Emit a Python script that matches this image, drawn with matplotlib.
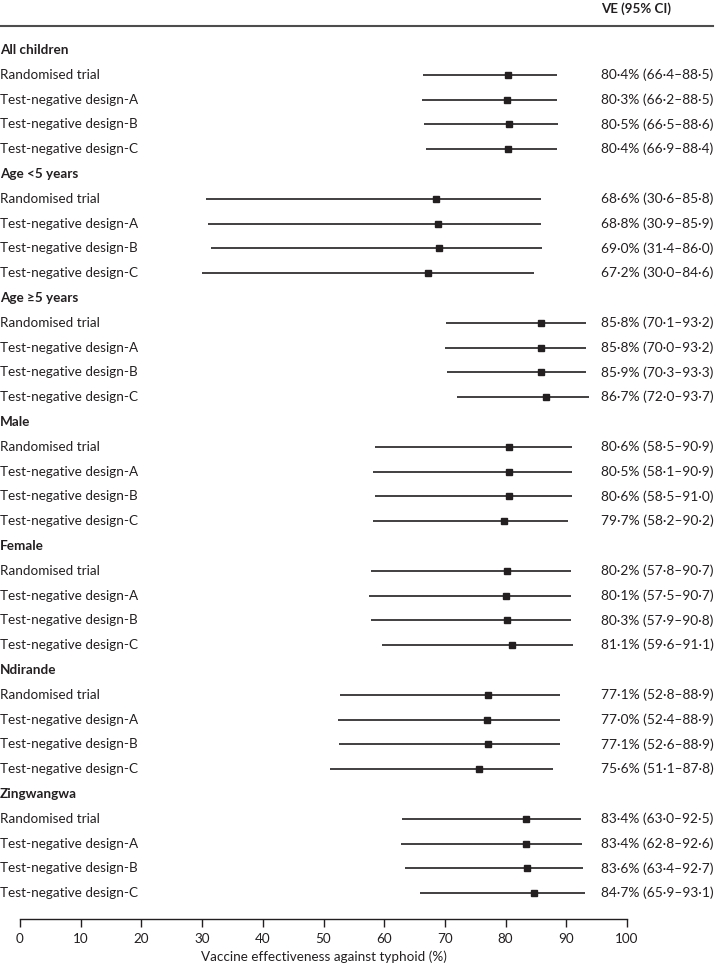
import matplotlib.pyplot as plt
import matplotlib.transforms as mtransforms
from matplotlib.lines import Line2D

plt.rcParams['font.family'] = ['Lato', 'DejaVu Sans']

groups = ["All children", "Age <5 years", "Age \u22655 years", "Male", "Female", "Ndirande", "Zingwangwa"]
methods = ["Randomised trial", "Test-negative design-A", "Test-negative design-B", "Test-negative design-C"]

ve = [
    [80.4, 80.3, 80.5, 80.4],
    [68.6, 68.8, 69.0, 67.2],
    [85.8, 85.8, 85.9, 86.7],
    [80.6, 80.5, 80.6, 79.7],
    [80.2, 80.1, 80.3, 81.1],
    [77.1, 77.0, 77.1, 75.6],
    [83.4, 83.4, 83.6, 84.7],
]
ci_low = [
    [66.4, 66.2, 66.5, 66.9],
    [30.6, 30.9, 31.4, 30.0],
    [70.1, 70.0, 70.3, 72.0],
    [58.5, 58.1, 58.5, 58.2],
    [57.8, 57.5, 57.9, 59.6],
    [52.8, 52.4, 52.6, 51.1],
    [63.0, 62.8, 63.4, 65.9],
]
ci_high = [
    [88.5, 88.5, 88.6, 88.4],
    [85.8, 85.9, 86.0, 84.6],
    [93.2, 93.2, 93.3, 93.7],
    [90.9, 90.9, 91.0, 90.2],
    [90.7, 90.7, 90.8, 91.1],
    [88.9, 88.9, 88.9, 87.8],
    [92.5, 92.6, 92.7, 93.1],
]


def fmt(v):
    return f"{v:.1f}".replace(".", "\u00b7")


W, H = 716, 967
fig = plt.figure(figsize=(W / 100, H / 100), dpi=100)
renderer = fig.canvas.get_renderer()


def fit_size(s, target_px, weight='normal'):
    # font size giving the text the width it has in the reference
    t = fig.text(0, 0, s, fontsize=10, fontweight=weight)
    w = t.get_window_extent(renderer).width
    t.remove()
    return 10 * target_px / w


fs = fit_size("Test-negative design-C", 137)
fs_val = fit_size("84\u00b77% (65\u00b79\u201393\u00b71)", 112)
fs_head = fit_size("VE (95% CI)", 70, 'bold')
txt_col = '#231f20'

# axes placement in pixels
x0, x1 = 20, 627
ytop, ybot = 26, 919
ax = fig.add_axes([x0 / W, 1 - ybot / H, (x1 - x0) / W, (ybot - ytop) / H])

row0, step = 50, 24.8
ax.set_ylim((ybot - row0) / step, (ytop - row0) / step)
ax.set_xlim(0, 100)

trans = mtransforms.blended_transform_factory(fig.transFigure, ax.transData)
val_x = 601 / W

row = 0
for g, name in enumerate(groups):
    ax.text(0.0, row, name, transform=trans, fontsize=fs, fontweight='bold',
            va='center', ha='left', color=txt_col)
    row += 1
    for m, meth in enumerate(methods):
        ax.text(0.0, row, meth, transform=trans, fontsize=fs, va='center',
                ha='left', color=txt_col)
        ax.plot([ci_low[g][m], ci_high[g][m]], [row, row], color='#231f20',
                lw=1.2, solid_capstyle='butt', clip_on=False)
        ax.plot(ve[g][m], row, marker='s', ms=3.8, color='#231f20', clip_on=False)
        ax.text(val_x, row,
                f"{fmt(ve[g][m])}% ({fmt(ci_low[g][m])}\u2013{fmt(ci_high[g][m])})",
                transform=trans, fontsize=fs_val, va='center', ha='left', color=txt_col)
        row += 1

# header and top rule
fig.text(val_x, 1 - 9 / H, "VE (95% CI)", fontsize=fs_head, fontweight='bold',
         va='center', ha='left', color=txt_col)
fig.add_artist(Line2D([0, 713 / W], [1 - ytop / H, 1 - ytop / H], transform=fig.transFigure,
                      color='#4d4d4d', lw=1.5))

for s in ['top', 'right', 'left']:
    ax.spines[s].set_visible(False)
ax.spines['bottom'].set_color('#231f20')
ax.spines['bottom'].set_linewidth(1.0)
ax.set_yticks([])
ax.set_xticks(range(0, 101, 10))
ax.tick_params(axis='x', direction='out', length=6, width=1.0, colors='#231f20',
               labelsize=fs, pad=4)
ax.set_xlabel("Vaccine effectiveness against typhoid (%)", fontsize=fs,
              color=txt_col, labelpad=4)

fig.savefig("out.png", dpi=100)
